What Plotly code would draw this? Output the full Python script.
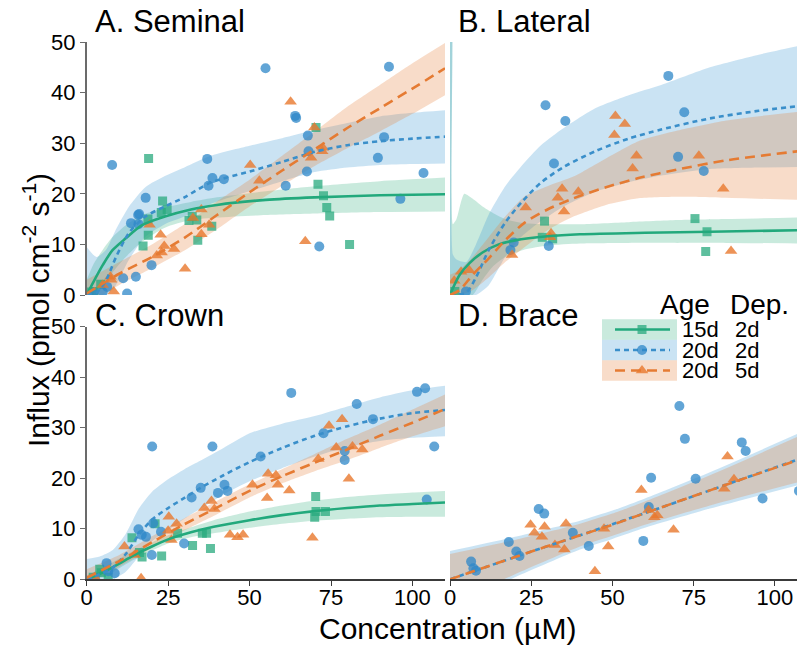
import plotly.graph_objects as go

W, H = 797, 645

# ---------------- DATA ----------------
# Series: "15d 2d" (green squares), "20d 2d" (blue circles), "20d 5d" (orange triangles)

# A. Seminal
semA_g_x = [19.0, 70.4, 71.0, 72.7, 73.7, 74.6, 80.7, 23.3, 22.9, 24.7, 18.8, 18.9, 17.3, 31.4, 33.8, 34.1, 38.4, 32.4, 4.3, 2.2, 0.7]
semA_g_y = [27.0, 33.1, 21.9, 19.6, 17.3, 15.6, 10.0, 18.6, 16.3, 16.9, 15.0, 11.8, 9.7, 14.7, 14.8, 10.8, 13.6, 15.5, 2.1, 0.7, 0.6]
semA_b_x = [7.8, 54.9, 92.8, 64.0, 64.3, 67.9, 91.3, 37.0, 68.1, 89.4, 38.6, 37.4, 42.1, 67.6, 103.4, 61.1, 96.3, 18.1, 15.8, 16.1, 13.6, 15.9, 71.4, 19.9, 15.1, 11.2, 12.4, 6.3, 4.9, 2.0]
semA_b_y = [25.7, 44.8, 45.1, 35.4, 35.0, 31.5, 31.2, 26.9, 28.4, 27.1, 23.1, 21.6, 22.9, 24.4, 24.1, 21.6, 19.0, 19.2, 15.8, 16.0, 14.2, 14.0, 9.6, 5.9, 3.6, 3.3, 0.3, 1.6, 0.6, 0.5]
semA_o_x = [62.6, 69.9, 72.5, 72.3, 68.9, 50.2, 53.0, 35.2, 32.6, 37.6, 35.2, 19.3, 22.7, 23.8, 26.8, 23.0, 21.5, 30.2, 67.1, 7.3, 7.5, 4.9, 8.3]
semA_o_y = [38.2, 33.1, 29.1, 28.4, 27.1, 25.7, 22.6, 16.9, 15.2, 13.9, 12.0, 13.9, 11.9, 9.7, 9.1, 8.4, 7.8, 5.2, 10.6, 3.6, 3.0, 2.0, 0.7]

semA_fit_g_x = [0, 2, 5, 8, 12, 17, 24, 32, 40, 55, 70, 90, 110]
semA_fit_g_y = [0, 2.5, 6.0, 8.9, 11.2, 13.8, 15.5, 16.9, 17.8, 18.8, 19.3, 19.7, 19.9]
semA_fit_g_lo = [0, 0, 1.5, 4.5, 7.5, 10.5, 13.3, 14.8, 15.3, 15.8, 16.1, 16.4, 16.5]
semA_fit_g_hi = [3, 6, 9, 11.5, 13.8, 15.8, 17.3, 18.4, 19.3, 20.5, 21.5, 22.5, 23.2]
semA_fit_b_x = [0, 3, 6, 9, 13, 18, 24, 30, 38, 50, 60, 70, 80, 90, 100, 110]
semA_fit_b_y = [0, 0.5, 3.0, 7.5, 12.3, 15.5, 17.5, 19.3, 22.2, 24.4, 26.3, 28.3, 29.6, 30.4, 30.9, 31.3]
semA_fit_b_lo = [0, 0, 0, 2, 7, 11.5, 14, 15.5, 18, 20.5, 22.5, 24.3, 25.2, 25.7, 25.9, 26.0]
semA_fit_b_hi = [9.5, 7.5, 9, 13, 17.5, 21.3, 23.5, 25.2, 27.5, 29.5, 31.0, 32.6, 34.0, 35.3, 36.0, 36.5]
semA_fit_o_x = [0, 10, 20, 30, 40, 50, 60, 70, 80, 90, 100, 110]
semA_fit_o_y = [0.3, 4.2, 7.5, 11.3, 15.8, 20.3, 24.6, 28.8, 33.0, 36.9, 40.8, 44.8]
semA_fit_o_lo = [-2, 2, 5.3, 8.8, 13, 17.5, 21.6, 25.5, 29, 32.3, 35.8, 39.5]
semA_fit_o_hi = [3, 6.5, 10, 14, 18.5, 22.8, 27.5, 32.3, 37.2, 41.5, 45.8, 49.8]

# B. Lateral
latB_g_x = [29.1, 28.4, 31.6, 75.4, 79.1, 78.7, 1.5]
latB_g_y = [14.6, 11.4, 11.1, 15.1, 12.5, 8.6, 0.7]
latB_b_x = [67.2, 29.4, 35.5, 72.1, 32.0, 70.2, 78.1, 19.6, 18.6, 30.4, 4.9]
latB_b_y = [43.3, 37.5, 34.4, 36.1, 26.0, 27.3, 24.5, 10.4, 8.9, 9.7, 0.7]
latB_o_x = [50.9, 53.8, 50.6, 57.4, 76.6, 56.2, 34.5, 39.5, 33.2, 23.3, 35.1, 84.1, 86.5, 31.1, 30.8, 19.1, 3.4, 5.9, 1.3]
latB_o_y = [35.4, 33.8, 31.6, 27.5, 27.5, 25.0, 21.0, 20.4, 19.2, 17.3, 16.5, 21.0, 8.7, 12.2, 11.4, 7.9, 4.6, 4.9, 2.8]

latB_fit_g_x = [0, 1, 3, 6, 10, 15, 20, 30, 40, 60, 80, 107]
latB_fit_g_y = [0, 1.5, 4.0, 6.3, 8.4, 10.0, 10.8, 11.6, 12.0, 12.3, 12.5, 12.8]
latB_band_g_x = [0, 0.4, 0.9, 2, 4.4, 7, 10, 13, 17, 23, 30, 40, 55, 70, 85, 107]
latB_band_g_lo = [0, 0, 0, 0, 0, 0, 3, 5.5, 7.5, 9.0, 9.8, 10.2, 10.3, 10.3, 10.3, 10.2]
latB_band_g_hi = [60, 60, 14, 15, 20, 19, 17.5, 16.3, 15, 14.2, 14.0, 14.0, 14.4, 14.8, 15.0, 15.3]
latB_fit_b_x = [0, 5, 8, 12, 17, 22, 28, 35, 45, 55, 65, 80, 95, 107]
latB_fit_b_y = [0, 0.5, 3.5, 9.0, 14.3, 18.3, 22.2, 25.3, 28.5, 30.9, 32.7, 34.9, 36.4, 37.3]
latB_band_b_x = [0, 0.4, 0.9, 2, 5, 8, 12, 17, 22, 28, 35, 45, 55, 65, 80, 95, 107]
latB_band_b_lo = [0, 0, 0, 0, 0, 0, 2, 7.5, 11.5, 14.6, 17.5, 20.5, 22.3, 23.6, 24.9, 25.2, 25.3]
latB_band_b_hi = [60, 60, 8, 7, 6.5, 10, 16, 21.5, 25.5, 29.6, 33, 37, 39.5, 41.5, 45, 47.5, 49.2]
latB_fit_o_x = [0, 3, 7, 12, 17, 23, 30, 38, 48, 58, 70, 85, 107]
latB_fit_o_y = [0, 1.0, 4.0, 7.3, 10.8, 14.3, 16.9, 19.1, 21.3, 23.1, 24.8, 26.6, 28.4]
latB_fit_o_lo = [0, 0, 1, 3.5, 6.5, 9.5, 12.8, 15.5, 17.8, 19.1, 19.4, 19.2, 18.8]
latB_fit_o_hi = [4, 5, 7.5, 11.5, 15.5, 19.5, 21.5, 23.4, 27, 30.4, 32.5, 34.5, 36.2]

# C. Crown
crC_g_x = [70.3, 70.4, 73.3, 70.0, 21.0, 13.9, 35.5, 36.8, 32.5, 38.0, 23.0, 17.0, 16.2, 4.0, 4.5, 2.0, 6.6, 27.9]
crC_g_y = [16.4, 13.4, 13.4, 12.3, 11.0, 8.2, 9.1, 9.1, 6.7, 6.1, 4.6, 4.4, 5.3, 2.0, 1.3, 0.4, 0.4, 9.1]
crC_b_x = [62.8, 101.4, 103.9, 82.9, 87.9, 106.7, 20.1, 38.6, 72.7, 79.2, 79.2, 53.4, 35.0, 32.2, 42.3, 43.2, 40.3, 104.4, 15.9, 16.9, 18.2, 20.4, 22.8, 29.9, 20.0, 6.1, 6.6, 8.6, 2.5]
crC_b_y = [36.9, 37.1, 37.8, 34.7, 31.7, 26.3, 26.3, 26.3, 28.9, 25.4, 23.6, 24.3, 18.1, 16.2, 18.7, 17.5, 17.1, 15.8, 9.9, 8.8, 8.4, 11.1, 9.4, 7.1, 4.8, 3.2, 1.6, 1.2, 0.3]
crC_o_x = [78.4, 74.4, 76.6, 81.6, 84.6, 71.1, 80.5, 55.7, 58.1, 58.7, 50.9, 62.2, 55.4, 38.3, 36.1, 39.2, 44.0, 46.3, 48.0, 69.3, 25.2, 27.6, 25.0, 26.0, 11.6, 14.7, 16.7, 2.5]
crC_o_y = [31.7, 30.4, 26.1, 26.3, 25.7, 23.8, 19.9, 20.9, 20.6, 18.7, 18.7, 17.6, 16.1, 15.5, 14.1, 13.9, 8.8, 8.3, 8.8, 8.2, 12.4, 11.0, 9.6, 7.8, 6.5, 4.8, 0.2, 0.4]

crC_fit_g_x = [0, 5, 10, 14, 20, 25, 32, 39, 50, 60, 70, 80, 90, 100, 110]
crC_fit_g_y = [0, 1.4, 3.1, 4.6, 6.5, 7.9, 9.3, 10.4, 11.7, 12.7, 13.5, 14.1, 14.6, 14.9, 15.2]
crC_fit_g_lo = [0, 0.6, 2.2, 3.7, 5.7, 7.1, 8.3, 9.1, 10.2, 11.0, 11.6, 12.0, 12.3, 12.4, 12.4]
crC_fit_g_hi = [0.8, 2.3, 4.1, 5.5, 7.3, 8.7, 10.3, 11.7, 13.4, 14.6, 15.6, 16.3, 16.8, 17.2, 17.5]
crC_fit_b_x = [0, 4, 8, 12, 16, 20, 25, 30, 35, 42, 50, 60, 70, 80, 90, 100, 110]
crC_fit_b_y = [0, 1.0, 2.3, 5.0, 8.8, 11.8, 14.1, 16.1, 18.1, 20.6, 23.2, 26.0, 28.4, 30.3, 31.8, 32.9, 33.5]
crC_fit_b_lo = [0, 0, 0, 1.5, 4.5, 7.5, 9.8, 12, 14, 16.8, 19.4, 22, 24.3, 26.2, 27.4, 28.0, 28.3]
crC_fit_b_hi = [4, 4.5, 5.8, 9, 14, 17.3, 19.8, 21.8, 23.5, 26, 28.9, 30.8, 32.3, 34.2, 36, 37.4, 38.3]
crC_fit_o_x = [0, 10, 20, 30, 40, 50, 60, 70, 80, 90, 100, 110]
crC_fit_o_y = [0.3, 3.6, 7.3, 10.9, 14.2, 17.5, 20.4, 23.1, 25.7, 28.4, 31.0, 33.7]
crC_fit_o_lo = [-1, 2.5, 6.2, 9.7, 12.9, 16.2, 19.0, 21.4, 23.6, 26.0, 28.3, 30.3]
crC_fit_o_hi = [2, 4.8, 8.5, 12.1, 15.5, 18.8, 21.8, 24.8, 27.8, 30.6, 33.6, 36.6]

# D. Brace
brD_b_x = [70.6, 72.3, 89.8, 91.0, 61.9, 75.6, 96.2, 107.4, 61.2, 27.3, 29.0, 37.8, 18.1, 42.7, 59.5, 20.4, 21.4, 6.5, 7.2, 8.0]
brD_b_y = [34.3, 27.8, 27.1, 25.4, 20.1, 19.9, 16.0, 17.5, 14.3, 13.9, 13.0, 9.2, 7.4, 6.6, 7.6, 5.5, 4.6, 3.5, 2.2, 1.7]
brD_o_x = [85.4, 87.4, 84.4, 58.9, 61.1, 63.8, 62.9, 68.8, 47.4, 48.7, 44.6, 24.8, 29.1, 35.7, 26.0, 28.3, 32.3, 35.2]
brD_o_y = [24.3, 19.8, 17.9, 17.7, 13.7, 12.7, 12.3, 9.8, 10.0, 6.5, 1.6, 10.8, 10.4, 11.0, 9.2, 8.4, 6.8, 5.9]

brD_fit_x = [0, 20, 40, 50, 60, 80, 107]
brD_fit_b_y = [0, 4.4, 8.7, 10.9, 13.1, 17.6, 23.7]
brD_fit_b_lo = [-5.6, 0.4, 5.9, 8.0, 10.2, 14.0, 18.6]
brD_fit_b_hi = [5.6, 8.4, 11.6, 13.6, 16.0, 21.2, 28.8]
brD_fit_o_y = [0, 4.4, 8.7, 10.8, 13.1, 17.6, 23.6]
brD_fit_o_lo = [-5, 1.0, 6.5, 8.6, 10.8, 14.6, 19.2]
brD_fit_o_hi = [5.0, 7.8, 11.0, 13.0, 15.4, 20.6, 28.2]

y_ticks = [0, 10, 20, 30, 40, 50]
x_ticks = [0, 25, 50, 75, 100]
legend_age = ["15d", "20d", "20d"]
legend_dep = ["2d", "2d", "5d"]

# ---------------- STYLE ----------------
FONT = "Liberation Sans, Arial, Helvetica, sans-serif"
C_G, C_B, C_O = "#22a97c", "#3a8fca", "#e57b33"
M_G, M_B, M_O = "rgba(40,170,125,0.75)", "rgba(45,135,200,0.75)", "rgba(232,120,45,0.8)"
F_G, F_B, F_O = "rgba(40,170,120,0.25)", "rgba(60,150,210,0.27)", "rgba(230,130,60,0.28)"

fig = go.Figure()


def band(x, lo, hi, fill, xa, ya):
    fig.add_trace(go.Scatter(x=x, y=lo, mode="lines", line=dict(width=0, shape="spline", smoothing=0.6),
                             hoverinfo="skip", showlegend=False, xaxis=xa, yaxis=ya))
    fig.add_trace(go.Scatter(x=x, y=hi, mode="lines", line=dict(width=0, shape="spline", smoothing=0.6),
                             fill="tonexty", fillcolor=fill, hoverinfo="skip", showlegend=False,
                             xaxis=xa, yaxis=ya))


def fit(x, y, color, dash, xa, ya):
    fig.add_trace(go.Scatter(x=x, y=y, mode="lines",
                             line=dict(color=color, width=2.6, dash=dash, shape="spline", smoothing=0.8),
                             showlegend=False, xaxis=xa, yaxis=ya))


def pts(x, y, color, symbol, size, xa, ya):
    fig.add_trace(go.Scatter(x=x, y=y, mode="markers",
                             marker=dict(color=color, symbol=symbol, size=size, line=dict(width=0)),
                             showlegend=False, xaxis=xa, yaxis=ya))


DASH_B = "5px,4px"
DASH_O = "10px,6px"

# Panel A
band(semA_fit_g_x, semA_fit_g_lo, semA_fit_g_hi, F_G, "x", "y")
band(semA_fit_b_x, semA_fit_b_lo, semA_fit_b_hi, F_B, "x", "y")
band(semA_fit_o_x, semA_fit_o_lo, semA_fit_o_hi, F_O, "x", "y")
pts(semA_g_x, semA_g_y, M_G, "square", 9, "x", "y")
pts(semA_b_x, semA_b_y, M_B, "circle", 10, "x", "y")
pts(semA_o_x, semA_o_y, M_O, "triangle-up", 11, "x", "y")
fit(semA_fit_g_x, semA_fit_g_y, C_G, "solid", "x", "y")
fit(semA_fit_b_x, semA_fit_b_y, C_B, DASH_B, "x", "y")
fit(semA_fit_o_x, semA_fit_o_y, C_O, DASH_O, "x", "y")

# Panel B
band(latB_band_g_x, latB_band_g_lo, latB_band_g_hi, F_G, "x2", "y2")
band(latB_band_b_x, latB_band_b_lo, latB_band_b_hi, F_B, "x2", "y2")
band(latB_fit_o_x, latB_fit_o_lo, latB_fit_o_hi, F_O, "x2", "y2")
pts(latB_g_x, latB_g_y, M_G, "square", 9, "x2", "y2")
pts(latB_b_x, latB_b_y, M_B, "circle", 10, "x2", "y2")
pts(latB_o_x, latB_o_y, M_O, "triangle-up", 11, "x2", "y2")
fit(latB_fit_g_x, latB_fit_g_y, C_G, "solid", "x2", "y2")
fit(latB_fit_b_x, latB_fit_b_y, C_B, DASH_B, "x2", "y2")
fit(latB_fit_o_x, latB_fit_o_y, C_O, DASH_O, "x2", "y2")

# Panel C
band(crC_fit_g_x, crC_fit_g_lo, crC_fit_g_hi, F_G, "x3", "y3")
band(crC_fit_b_x, crC_fit_b_lo, crC_fit_b_hi, F_B, "x3", "y3")
band(crC_fit_o_x, crC_fit_o_lo, crC_fit_o_hi, F_O, "x3", "y3")
pts(crC_g_x, crC_g_y, M_G, "square", 9, "x3", "y3")
pts(crC_b_x, crC_b_y, M_B, "circle", 10, "x3", "y3")
pts(crC_o_x, crC_o_y, M_O, "triangle-up", 11, "x3", "y3")
fit(crC_fit_g_x, crC_fit_g_y, C_G, "solid", "x3", "y3")
fit(crC_fit_b_x, crC_fit_b_y, C_B, DASH_B, "x3", "y3")
fit(crC_fit_o_x, crC_fit_o_y, C_O, DASH_O, "x3", "y3")

# Panel D
band(brD_fit_x, brD_fit_b_lo, brD_fit_b_hi, F_B, "x4", "y4")
band(brD_fit_x, brD_fit_o_lo, brD_fit_o_hi, F_O, "x4", "y4")
pts(brD_b_x, brD_b_y, M_B, "circle", 10, "x4", "y4")
pts(brD_o_x, brD_o_y, M_O, "triangle-up", 11, "x4", "y4")
fit(brD_fit_x, brD_fit_b_y, C_B, DASH_B, "x4", "y4")
fit(brD_fit_x, brD_fit_o_y, C_O, DASH_O, "x4", "y4")

# ---------------- LEGEND (drawn on a transparent pixel overlay axis) ----------------
leg_rows_y = [329.5, 350.0, 370.5]
leg_fill = [F_G, F_B, F_O]
leg_line = [C_G, C_B, C_O]
leg_dash = ["solid", DASH_B, DASH_O]
leg_marker = [("square", 9, M_G), ("circle", 10, M_B), ("triangle-up", 11, M_O)]
shapes = []
for i, yc in enumerate(leg_rows_y):
    shapes.append(dict(type="rect", xref="x5", yref="y5", x0=602, x1=677, y0=yc - 10.3, y1=yc + 10.3,
                       fillcolor=leg_fill[i], line=dict(width=0), layer="below"))
    fig.add_trace(go.Scatter(x=[615, 670], y=[yc, yc], mode="lines",
                             line=dict(color=leg_line[i], width=2.6, dash=leg_dash[i]),
                             showlegend=False, hoverinfo="skip", xaxis="x5", yaxis="y5"))
    sym, sz, col = leg_marker[i]
    fig.add_trace(go.Scatter(x=[642], y=[yc], mode="markers",
                             marker=dict(symbol=sym, size=sz, color=col, line=dict(width=0)),
                             showlegend=False, hoverinfo="skip", xaxis="x5", yaxis="y5"))


def px(x, y):
    return x / W, 1 - y / H


annotations = []


def text(t, x, y, size, xanchor="left", angle=0):
    ax, ay = px(x, y)
    annotations.append(dict(text=t, x=ax, y=ay, xref="paper", yref="paper", showarrow=False,
                            xanchor=xanchor, yanchor="middle", textangle=angle,
                            font=dict(family=FONT, size=size, color="black")))


text("A. Seminal", 93, 22, 31)
text("B. Lateral", 456, 22, 31)
text("C. Crown", 93, 315, 31)
text("D. Brace", 456, 315, 31)
text("Concentration (µM)", 447, 628, 30, xanchor="center")
text("Influx (pmol cm<sup>-2</sup> s<sup>-1</sup>)", 36, 310, 30, xanchor="center", angle=-90)
text("Age", 658, 305, 28)
text("Dep.", 728, 305, 28)
for i, yc in enumerate(leg_rows_y):
    text(legend_age[i], 680, yc, 22)
    text(legend_dep[i], 733, yc, 22)

# ---------------- AXES ----------------
XL = [86.7 / W, 445 / W]
XR = [450 / W, 1.0]
YT = [1 - 295 / H, 1 - 42 / H]
YB = [1 - 579.3 / H, 1 - 326.7 / H]
tickfont = dict(family=FONT, size=22, color="black")

yax_vis = dict(range=[0, 50], showgrid=False, zeroline=False, showline=True, linecolor="#6b6b6b",
               linewidth=1.6, ticks="outside", ticklen=5, tickwidth=1.4, tickcolor="#6b6b6b",
               tickvals=y_ticks, tickfont=tickfont, automargin=False, fixedrange=True)
yax_hid = dict(range=[0, 50], showgrid=False, zeroline=False, showline=False, showticklabels=False,
               ticks="", automargin=False)
xax_vis = dict(showgrid=False, zeroline=False, showline=True, linecolor="#3a3a3a", linewidth=1.6,
               ticks="outside", ticklen=5, tickwidth=1.4, tickcolor="#3a3a3a", tickvals=x_ticks,
               tickfont=tickfont, automargin=False, ticklabelstandoff=-8)
xax_hid = dict(showgrid=False, zeroline=False, showline=False, showticklabels=False, ticks="",
               automargin=False)

fig.update_layout(
    width=W, height=H,
    margin=dict(l=0, r=0, t=0, b=0),
    paper_bgcolor="white", plot_bgcolor="rgba(0,0,0,0)",
    font=dict(family=FONT, color="black"),
    showlegend=False,
    xaxis=dict(domain=XL, range=[0, 110], anchor="y", **xax_hid),
    yaxis=dict(domain=YT, anchor="x", **yax_vis),
    xaxis2=dict(domain=XR, range=[0, 106.8], anchor="y2", **xax_hid),
    yaxis2=dict(domain=YT, anchor="x2", **yax_hid),
    xaxis3=dict(domain=XL, range=[0, 110], anchor="y3", **xax_vis),
    yaxis3=dict(domain=YB, anchor="x3", **yax_vis),
    xaxis4=dict(domain=XR, range=[0, 106.8], anchor="y4", **xax_vis),
    yaxis4=dict(domain=YB, anchor="x4", **yax_hid),
    xaxis5=dict(domain=[0, 1], range=[0, W], anchor="y5", visible=False),
    yaxis5=dict(domain=[0, 1], range=[H, 0], anchor="x5", visible=False),
    shapes=shapes,
    annotations=annotations,
)

fig.write_html("out.html")
